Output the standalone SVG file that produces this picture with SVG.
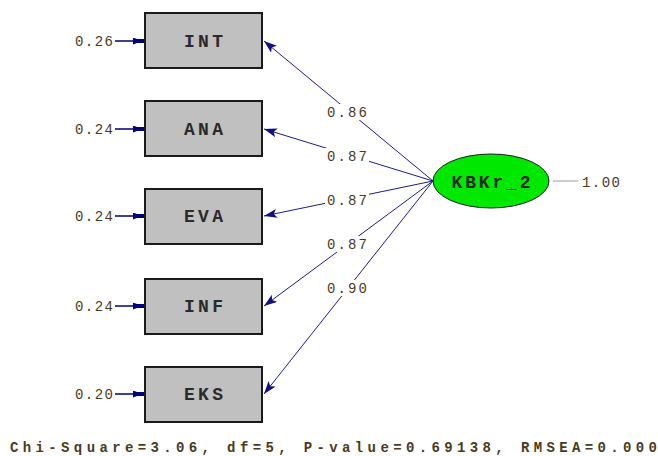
<svg xmlns="http://www.w3.org/2000/svg" width="658" height="456" viewBox="0 0 658 456">
<style>
.box{fill:#c0c0c0;stroke:#1a1a1a;stroke-width:2}
.lbl{font-family:"Liberation Mono","Courier New",monospace;font-size:18px;font-weight:bold;fill:#2a2a2a;text-anchor:middle}
.num{font-family:"Liberation Mono","Courier New",monospace;font-size:14px;fill:#4a3a22}
.conn{stroke:#1c1c8a;stroke-width:1;fill:none}
.err{stroke:#00007a;stroke-width:1.5;fill:none}
.gap{fill:#ffffff}
</style>
<defs>
<marker id="ah" markerUnits="userSpaceOnUse" markerWidth="14" markerHeight="10" refX="13" refY="4.5" orient="auto">
<path d="M0,0 L13,4.5 L0,9 L3,4.5 z" fill="#10107e"/>
</marker>
<marker id="eh" markerUnits="userSpaceOnUse" markerWidth="14" markerHeight="8" refX="12" refY="3.5" orient="auto">
<path d="M0,0 L4,1.5 L12,1.5 L12,5.5 L4,5.5 L0,7 z" fill="#00007a"/>
</marker>
</defs>
<g id="connectors">
<line class="conn" x1="433" y1="181" x2="264" y2="41" marker-end="url(#ah)"/>
<line class="conn" x1="433" y1="181" x2="264" y2="129" marker-end="url(#ah)"/>
<line class="conn" x1="433" y1="181" x2="264" y2="216" marker-end="url(#ah)"/>
<line class="conn" x1="433" y1="181" x2="264" y2="306" marker-end="url(#ah)"/>
<line class="conn" x1="433" y1="181" x2="264" y2="394" marker-end="url(#ah)"/>
<rect class="gap" x="325" y="104" width="44" height="16"/>
<rect class="gap" x="325" y="148" width="44" height="16"/>
<rect class="gap" x="325" y="192" width="44" height="16"/>
<rect class="gap" x="325" y="236" width="44" height="16"/>
<rect class="gap" x="325" y="280" width="44" height="16"/>
<text class="num" x="327" y="117" textLength="40" lengthAdjust="spacing">0.86</text>
<text class="num" x="327" y="161" textLength="40" lengthAdjust="spacing">0.87</text>
<text class="num" x="327" y="205" textLength="40" lengthAdjust="spacing">0.87</text>
<text class="num" x="327" y="249" textLength="40" lengthAdjust="spacing">0.87</text>
<text class="num" x="327" y="293" textLength="40" lengthAdjust="spacing">0.90</text>
<line class="err" x1="115" y1="41" x2="145" y2="41" marker-end="url(#eh)"/>
<line class="err" x1="115" y1="129" x2="145" y2="129" marker-end="url(#eh)"/>
<line class="err" x1="115" y1="216" x2="145" y2="216" marker-end="url(#eh)"/>
<line class="err" x1="115" y1="306" x2="145" y2="306" marker-end="url(#eh)"/>
<line class="err" x1="115" y1="394" x2="145" y2="394" marker-end="url(#eh)"/>
<line x1="553" y1="181" x2="578" y2="181" stroke="#999" stroke-width="1"/>
</g>
<g id="INT">
<rect class="box" x="145" y="13" width="117" height="55"/>
<text class="lbl" x="203.5" y="47" textLength="39" lengthAdjust="spacing">INT</text>
<text class="num" x="75" y="46" textLength="38" lengthAdjust="spacing">0.26</text>
</g>
<g id="ANA">
<rect class="box" x="145" y="101" width="117" height="55"/>
<text class="lbl" x="203.5" y="135" textLength="39" lengthAdjust="spacing">ANA</text>
<text class="num" x="75" y="134" textLength="38" lengthAdjust="spacing">0.24</text>
</g>
<g id="EVA">
<rect class="box" x="145" y="189" width="117" height="55"/>
<text class="lbl" x="203.5" y="222" textLength="39" lengthAdjust="spacing">EVA</text>
<text class="num" x="75" y="221" textLength="38" lengthAdjust="spacing">0.24</text>
</g>
<g id="INF">
<rect class="box" x="145" y="279" width="117" height="55"/>
<text class="lbl" x="203.5" y="312" textLength="39" lengthAdjust="spacing">INF</text>
<text class="num" x="75" y="311" textLength="38" lengthAdjust="spacing">0.24</text>
</g>
<g id="EKS">
<rect class="box" x="145" y="367" width="117" height="55"/>
<text class="lbl" x="203.5" y="400" textLength="39" lengthAdjust="spacing">EKS</text>
<text class="num" x="75" y="399" textLength="38" lengthAdjust="spacing">0.20</text>
</g>
<g id="KBKr_2">
<ellipse cx="491" cy="181" rx="58" ry="27" fill="#00e800" stroke="#1a1a1a" stroke-width="1"/>
<text class="lbl" x="491" y="188" textLength="79" lengthAdjust="spacing">KBKr_2</text>
<text class="num" x="582" y="187" textLength="38" lengthAdjust="spacing">1.00</text>
</g>
<text class="num" x="10" y="452" font-size="16" font-weight="bold" textLength="647" lengthAdjust="spacing">Chi-Square=3.06, df=5, P-value=0.69138, RMSEA=0.000</text>
</svg>
